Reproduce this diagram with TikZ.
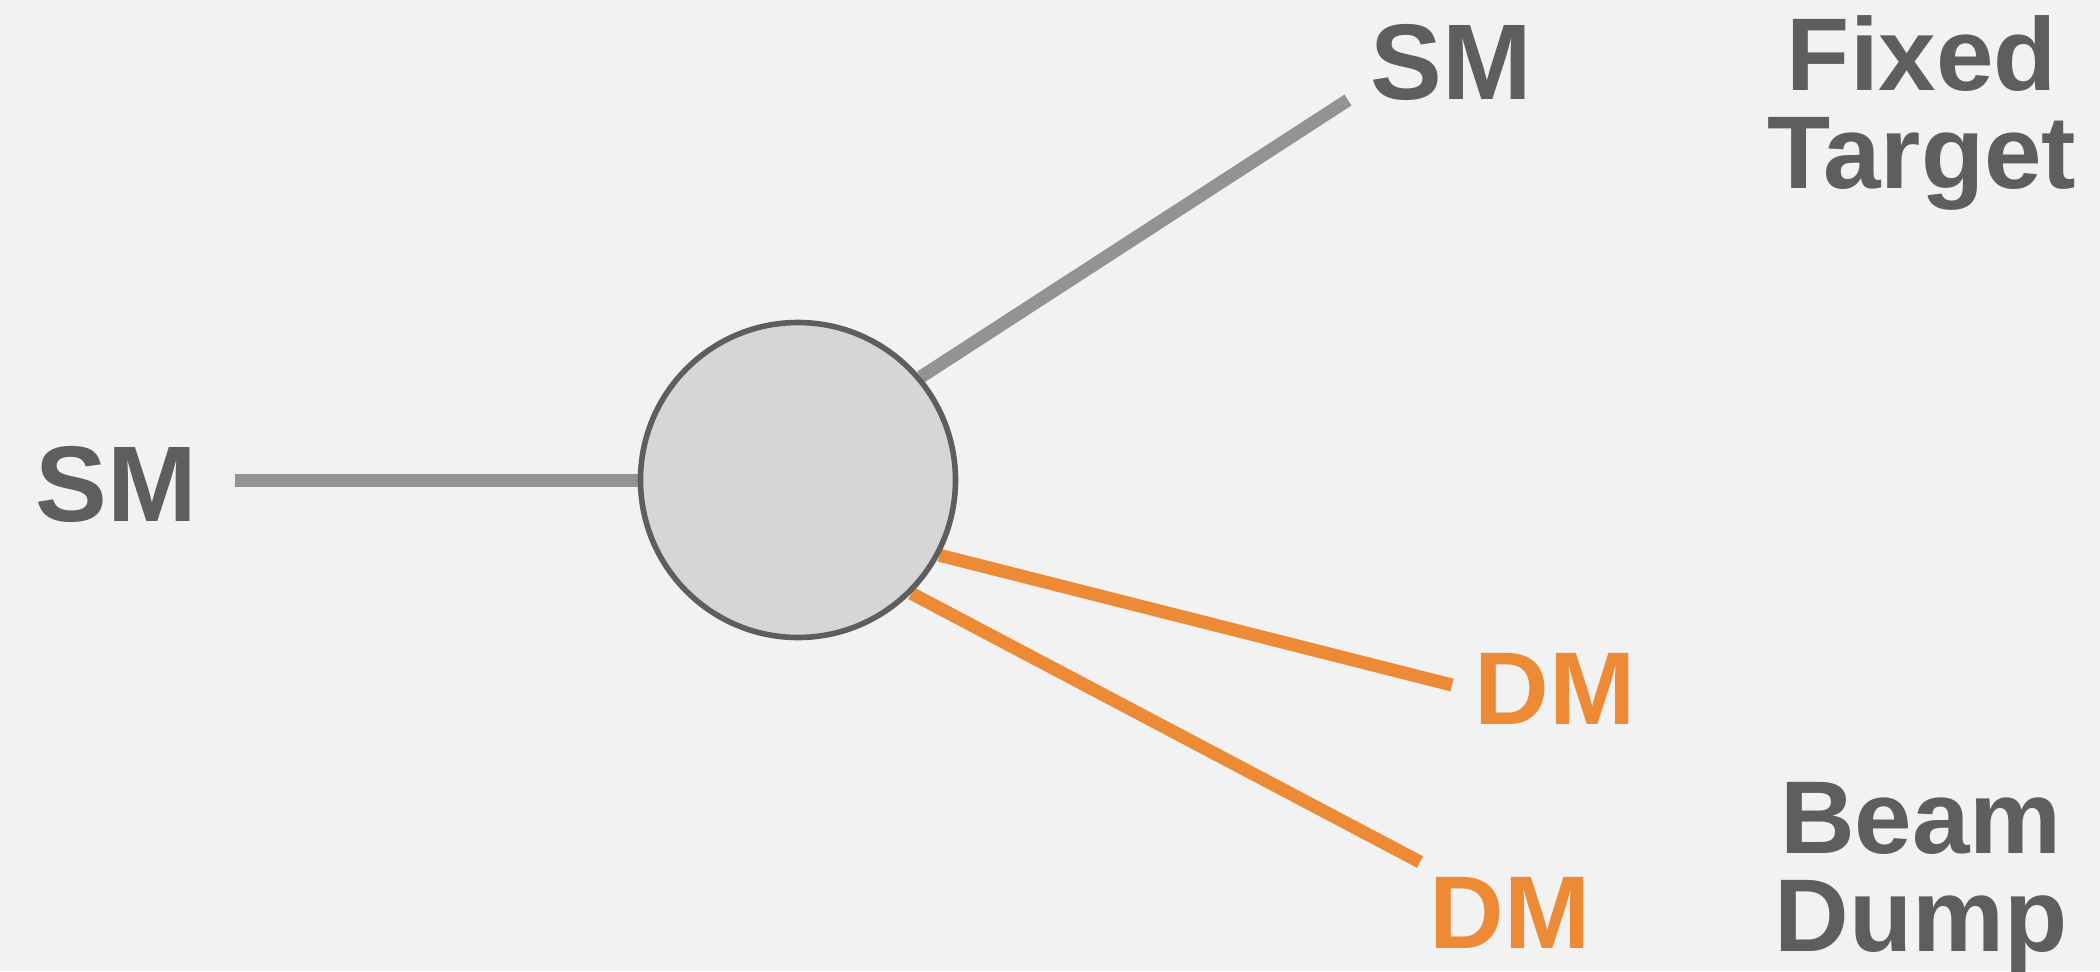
\documentclass[tikz,border=0pt]{standalone}
\usepackage{fontspec}
\setmainfont{Liberation Sans}
\definecolor{bgc}{HTML}{F2F2F2}
\definecolor{fillc}{HTML}{D6D6D6}
\definecolor{darkc}{HTML}{5E5E5E}
\definecolor{linec}{HTML}{939393}
\definecolor{orangec}{HTML}{EC8A36}
\pgfdeclarelayer{back}
\pgfdeclarelayer{mid}
\pgfsetlayers{back,mid,main}
\tikzset{
  blob/.style={circle, draw=darkc, fill=fillc, line width=2.8pt, minimum size=157.5pt, inner sep=0pt},
  smlink/.style={draw=linec, line width=6.5pt},
  dmlink/.style={draw=orangec, line width=6.5pt},
  lbl/.style={inner sep=0pt, font=\fontsize{51.7}{49}\selectfont\bfseries, text=darkc},
  biglbl/.style={inner sep=0pt, font=\fontsize{53.8}{49}\selectfont\bfseries, text=darkc},
  dmlbl/.style={inner sep=0pt, font=\fontsize{51.7}{49}\selectfont\bfseries, text=orangec},
}
\begin{document}
\begin{tikzpicture}[x=0.5pt, y=-0.5pt]
\begin{pgfonlayer}{back}
\fill[bgc] (0,0) rectangle (2100,971);
\end{pgfonlayer}
\useasboundingbox (0,0) rectangle (2100,971);
\node[blob] (c) at (798,480) {};
\coordinate (eL) at (235,480);
\coordinate (eT) at (1348,100);
\coordinate (eD1) at (1452,685);
\coordinate (eD2) at (1420,862);
\begin{pgfonlayer}{mid}
\draw[smlink] (eL) -- (c.180);
\draw[smlink] (c.40) -- (eT);
\draw[dmlink] (c.-28) -- (eD1);
\draw[dmlink] (c.-45) -- (eD2);
\end{pgfonlayer}
\node[biglbl, anchor=base] (smL) at (116,521) {SM};
\node[biglbl, anchor=base] (smT) at (1451,99) {SM};
\node[lbl, anchor=base, align=center] (ft) at (1922,188) {Fixed\\Target};
\node[dmlbl, anchor=base] (dm1) at (1555,724) {DM};
\node[dmlbl, anchor=base] (dm2) at (1510,948) {DM};
\node[lbl, anchor=base, align=center] (bd) at (1921,951) {Beam\\Dump};
\end{tikzpicture}
\end{document}
